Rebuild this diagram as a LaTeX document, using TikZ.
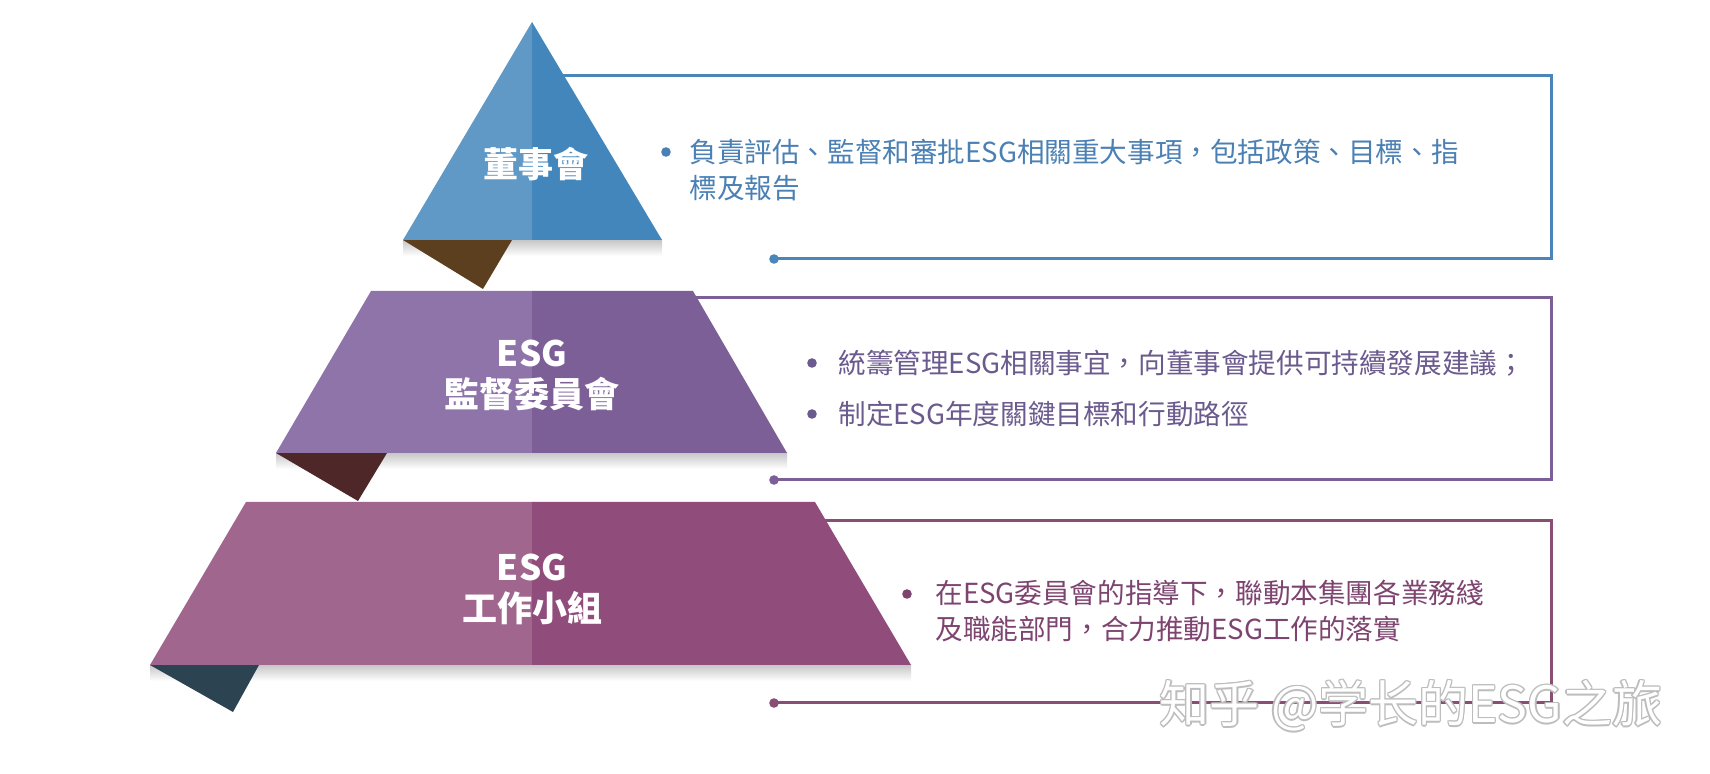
\documentclass[tikz,border=0pt]{standalone}
\usepackage{fontspec}
\usetikzlibrary{calc}
\newfontfamily\cjk{Noto Sans CJK TC}
\newfontfamily\cjksc{Noto Sans CJK SC}
\definecolor{triL}{HTML}{6199C6}
\definecolor{triR}{HTML}{4286BC}
\definecolor{midL}{HTML}{8E74A8}
\definecolor{midR}{HTML}{7D5F98}
\definecolor{lowL}{HTML}{A0668D}
\definecolor{lowR}{HTML}{904C7A}
\definecolor{foldA}{HTML}{5C3F1F}
\definecolor{foldB}{HTML}{4E2828}
\definecolor{foldC}{HTML}{2C4452}
\definecolor{lineA}{HTML}{4A86BA}
\definecolor{lineB}{HTML}{7D5F98}
\definecolor{lineC}{HTML}{8A4D74}
\definecolor{txtA}{HTML}{4A80B4}
\definecolor{txtB}{HTML}{6B5A8E}
\definecolor{txtC}{HTML}{7E4470}
\definecolor{wmgray}{HTML}{BDBDBD}
\tikzset{
  frame/.style={line width=1.5pt},
  shadowfade/.style={top color=black!22, bottom color=white, draw=none},
  label/.style={text=white, font=\cjk\bfseries\fontsize{17.5pt}{20.5pt}\selectfont, align=center, inner sep=0pt},
  body/.style={font=\cjk\fontsize{13.8pt}{18pt}\selectfont, align=left, anchor=west, inner sep=0pt},
  bulletdot/.style={circle, inner sep=0pt, minimum size=4.8pt},
  enddot/.style={circle, inner sep=0pt, minimum size=4.8pt},
  wmark/.style={font=\cjksc\fontsize{25pt}{28pt}\selectfont, inner sep=0pt}
}
\begin{document}
\begin{tikzpicture}[x=0.5pt,y=-0.5pt]
\useasboundingbox (0,0) rectangle (1710,774);
\fill[white] (0,0) rectangle (1710,774);

% ---- frame coordinates
\coordinate (f1a) at (540,76);
\coordinate (f1b) at (1551,76);
\coordinate (f1c) at (1551,259);
\coordinate (f2a) at (690,298);
\coordinate (f2b) at (1551,298);
\coordinate (f2c) at (1551,480);
\coordinate (f3a) at (800,521);
\coordinate (f3b) at (1551,521);
\coordinate (f3c) at (1551,703);
\node[enddot, fill=lineA] (d1) at (774,259) {};
\node[enddot, fill=lineB] (d2) at (774,480) {};
\node[enddot, fill=lineC] (d3) at (774,703) {};

% ---- shadows under bases
\shade[shadowfade] (403,240) rectangle (662,256);
\shade[shadowfade] (276,453) rectangle (787,469);
\shade[shadowfade] (150,665) rectangle (911,681);

% ---- frames
\draw[frame, lineA] (f1a) -- (f1b) -- (f1c) -- (d1.center);
\draw[frame, lineB] (f2a) -- (f2b) -- (f2c) -- (d2.center);
\draw[frame, lineC] (f3a) -- (f3b) -- (f3c) -- (d3.center);

% ---- folds
\fill[foldA] (403,240) -- (512,240) -- (483,289) -- cycle;
\fill[foldB] (276,453) -- (387,453) -- (358,501) -- cycle;
\fill[foldC] (150,665) -- (259,665) -- (233,712) -- cycle;

% ---- top triangle
\fill[triL] (532,22) -- (403,240) -- (532,240) -- cycle;
\fill[triR] (532,22) -- (532,240) -- (662,240) -- cycle;
% ---- middle trapezoid
\fill[midL] (371,291) -- (276,453) -- (532,453) -- (532,291) -- cycle;
\fill[midR] (532,291) -- (532,453) -- (787,453) -- (693,291) -- cycle;
% ---- bottom trapezoid
\fill[lowL] (246,502) -- (150,665) -- (532,665) -- (532,502) -- cycle;
\fill[lowR] (532,502) -- (532,665) -- (911,665) -- (815,502) -- cycle;

% ---- pyramid labels
\node[label] (L1) at (536,164) {董事會};
\node[label] (L2) at (532,375) {ESG\\監督委員會};
\node[label] (L3) at (532,589) {ESG\\工作小組};

% ---- descriptions
\node[bulletdot, fill=txtA] (u1) at (666,152) {};
\node[body, text=txtA] (t1) at (689,170) {負責評估、監督和審批ESG相關重大事項，包括政策、目標、指\\標及報告};

\node[bulletdot, fill=txtB] (u2) at (812,363) {};
\node[body, text=txtB] (t2) at (838,363) {統籌管理ESG相關事宜，向董事會提供可持續發展建議；};
\node[bulletdot, fill=txtB] (u3) at (812,414) {};
\node[body, text=txtB] (t3) at (838,414) {制定ESG年度關鍵目標和行動路徑};

\node[bulletdot, fill=txtC] (u4) at (907,594) {};
\node[body, text=txtC] (t4) at (935,611) {在ESG委員會的指導下，聯動本集團各業務綫\\及職能部門，合力推動ESG工作的落實};

% ---- watermark (outlined)
\foreach \i/\dx/\dy in {1/-1.4/0, 2/1.4/0, 3/0/-1.4, 4/0/1.4, 5/-1/-1, 6/1/1, 7/-1/1, 8/1/-1}
  \node[wmark, text=wmgray] (wm\i) at ($(1411,706)+(\dx,\dy)$) {知乎 @学长的ESG之旅};
\node[wmark, text=white] (wm) at (1411,706) {知乎 @学长的ESG之旅};
\end{tikzpicture}
\end{document}
